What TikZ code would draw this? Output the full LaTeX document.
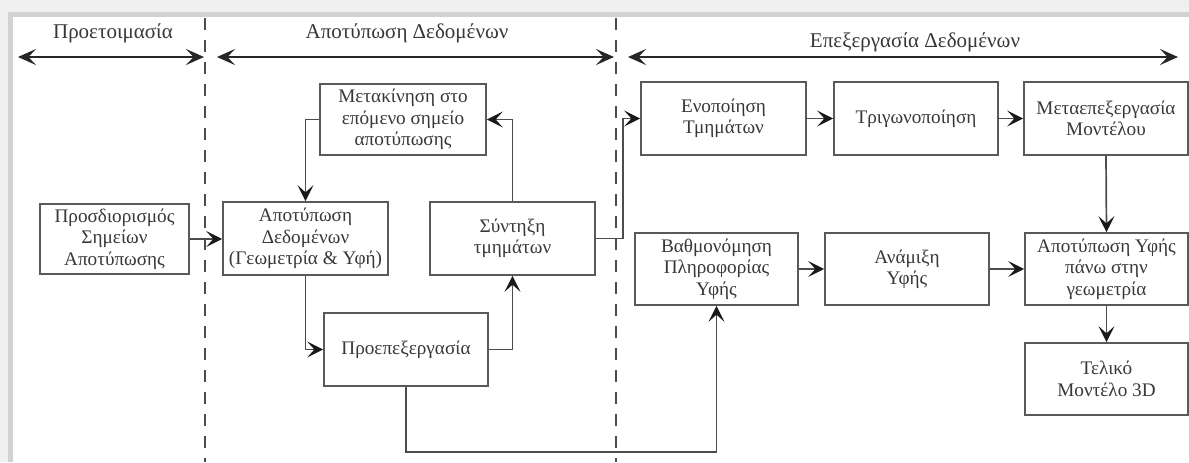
\documentclass[tikz,border=0pt]{standalone}
\usepackage{fontspec}
\setmainfont{Liberation Serif}
\usetikzlibrary{arrows.meta}
\begin{document}
\begin{tikzpicture}[x=0.5pt,y=-0.5pt,
  box/.style={draw=black!65, line width=0.85pt, fill=white, align=center, inner sep=1pt,
    text=black!78, font=\fontsize{9.6}{10.7}\selectfont},
  arr/.style={draw=black!70, line width=0.85pt, -{Stealth[length=8pt,width=8pt,inset=3.6pt,color=black!90]}},
  hdr/.style={text=black!78, font=\fontsize{10.5}{12}\selectfont},
  harr/.style={draw=black!85, line width=1.2pt, {Stealth[length=9pt,width=8pt,inset=3.8pt]}-{Stealth[length=9pt,width=8pt,inset=3.8pt]}},
  sep/.style={draw=black!70, line width=0.7pt, dash pattern=on 6pt off 5pt}]
\useasboundingbox (0,0) rectangle (1189,462);
\fill[white] (0,0) rectangle (1189,462);
% frame shadow
\fill[gray!12] (0,0) rectangle (1189,12);
\fill[gray!12] (0,0) rectangle (8,462);
\fill[gray!35] (13,12) rectangle (1189,17);
\fill[gray!35] (8,12) rectangle (13,462);
% headers
\node[hdr] (h1) at (113,33) {Προετοιμασία};
\node[hdr] (h2) at (407,33) {Αποτύπωση Δεδομένων};
\node[hdr] (h3) at (915,42) {Επεξεργασία Δεδομένων};
\coordinate (a1l) at (18,57);  \coordinate (a1r) at (204,57);
\coordinate (a2l) at (217,57); \coordinate (a2r) at (614,57);
\coordinate (a3l) at (628,57); \coordinate (a3r) at (1178,57);
\draw[harr] (a1l) -- (a1r);
\draw[harr] (a2l) -- (a2r);
\draw[harr] (a3l) -- (a3r);
\coordinate (d1t) at (205,18); \coordinate (d1b) at (205,462);
\coordinate (d2t) at (616,18); \coordinate (d2b) at (616,462);
\draw[sep] (d1t) -- (d1b);
\draw[sep] (d2t) -- (d2b);
% boxes
\node[box, minimum width=74.5pt, minimum height=35pt] (prosd) at (114.5,239) {Προσδιορισμός\\Σημείων\\Αποτύπωσης};
\node[box, minimum width=82.5pt, minimum height=36.5pt] (apot) at (305.5,238.5) {Αποτύπωση\\Δεδομένων\\(Γεωμετρία \& Υφή)};
\node[box, minimum width=83pt, minimum height=35.5pt] (metak) at (403,119.5) {Μετακίνηση στο\\επόμενο σημείο\\αποτύπωσης};
\node[box, minimum width=82.5pt, minimum height=36.5pt] (synt) at (512.5,238.5) {Σύντηξη\\τμημάτων};
\node[box, minimum width=82pt, minimum height=36.5pt] (proep) at (406,349.5) {Προεπεξεργασία};
\node[box, minimum width=82.5pt, minimum height=36.5pt] (enop) at (723.5,118.5) {Ενοποίηση\\Τμημάτων};
\node[box, minimum width=82pt, minimum height=36.5pt] (trig) at (916,118.5) {Τριγωνοποίηση};
\node[box, minimum width=82pt, minimum height=36.5pt] (metae) at (1106,118.5) {Μεταεπεξεργασία\\Μοντέλου};
\node[box, minimum width=81.5pt, minimum height=36pt] (vathm) at (716.5,269) {Βαθμονόμηση\\Πληροφορίας\\Υφής};
\node[box, minimum width=82pt, minimum height=36pt] (anam) at (907,269) {Ανάμιξη\\Υφής};
\node[box, minimum width=81.5pt, minimum height=36pt] (apyf) at (1106.5,269) {Αποτύπωση Υφής\\πάνω στην\\γεωμετρία};
\node[box, minimum width=81.5pt, minimum height=36pt] (telik) at (1106.5,379) {Τελικό\\Μοντέλο 3D};
% connectors
\draw[arr] (prosd.east) -- (apot.west |- prosd.east);
\draw[arr] (metak.west) -| (apot.north);
\draw[arr] (apot.south) |- (proep.west);
\draw[arr] (proep.east) -| (synt.south);
\draw[arr] (synt.north) |- (metak.east);
\coordinate (j1) at (623,238.5);
\draw[arr] (synt.east) -- (j1) |- (enop.west);
\draw[arr] (enop) -- (trig);
\draw[arr] (trig) -- (metae);
\draw[arr] (metae.south) -- (apyf.north);
\draw[arr] (vathm) -- (anam);
\draw[arr] (anam) -- (apyf);
\draw[arr] (apyf.south) -- (telik.north);
\coordinate (j2) at (406,452);
\draw[arr] (proep.south) -- (j2) -| (vathm.south);
\end{tikzpicture}
\end{document}
